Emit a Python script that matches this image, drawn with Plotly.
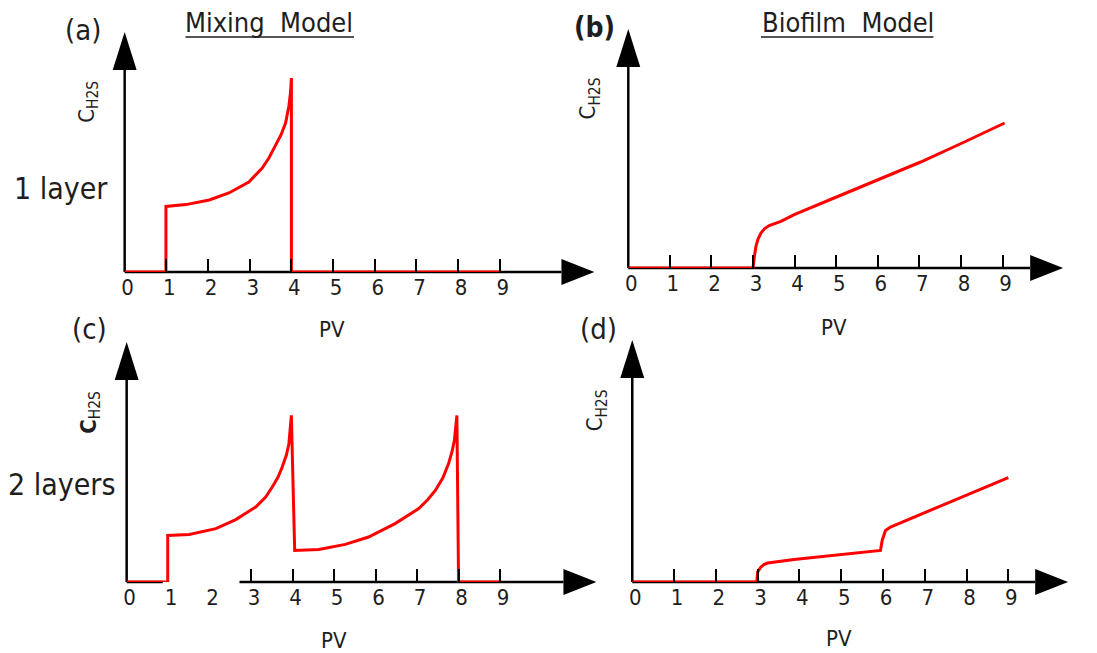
import plotly.graph_objects as go

W, H = 1097, 653

# ---------------- data (PV vs C_H2S, arbitrary units) ----------------
pv_ticks = [0, 1, 2, 3, 4, 5, 6, 7, 8, 9]
pv_labels = ["0", "1", "2", "3", "4", "5", "6", "7", "8", "9"]

a_x = [0, 0.99, 0.99, 1.47, 2.03, 2.50, 2.98, 3.30, 3.46, 3.62, 3.75, 3.86, 3.94, 3.98, 4.0, 4.0, 9.0]
a_y = [0, 0, 3.28, 3.37, 3.60, 3.95, 4.50, 5.20, 5.70, 6.30, 6.85, 7.45, 8.30, 9.00, 9.70, 0, 0]

b_x = [0, 3.0, 3.03, 3.07, 3.12, 3.19, 3.28, 3.39, 3.67, 3.99, 4.95, 5.99, 7.03, 8.03, 9.05]
b_y = [0, 0, 0.55, 1.08, 1.45, 1.75, 1.97, 2.12, 2.33, 2.67, 3.50, 4.42, 5.30, 6.25, 7.25]

c_x = [0, 0.99, 0.99, 1.51, 2.15, 2.63, 3.11, 3.35, 3.51, 3.65, 3.75, 3.85, 3.91, 3.97, 4.05,
       4.63, 5.27, 5.83, 6.47, 7.04, 7.25, 7.44, 7.62, 7.76, 7.84, 7.90, 7.96, 8.0, 9.0]
c_y = [0, 0, 2.33, 2.38, 2.67, 3.12, 3.75, 4.25, 4.75, 5.25, 5.75, 6.35, 6.90, 8.33, 1.58,
       1.63, 1.88, 2.25, 2.92, 3.67, 4.10, 4.58, 5.20, 5.92, 6.50, 7.08, 8.33, 0, 0]
c_tick_marks = [3, 4, 5, 6, 7, 8, 9]

d_x = [0, 2.98, 3.0, 3.04, 3.08, 3.15, 3.24, 3.87, 4.99, 5.94, 5.98, 6.02, 6.06, 6.18, 6.98, 7.97, 9.0]
d_y = [0, 0, 0.50, 0.64, 0.75, 0.87, 0.95, 1.12, 1.37, 1.58, 2.08, 2.40, 2.58, 2.75, 3.45, 4.30, 5.22]

# ---------------- layout geometry (pixels) ----------------
YUNIT = 20.0
panels = {
    "a": dict(x0=122, unit=41.8, xend=560, y0=272, ytop=70, xs=a_x, ys=a_y, ax=""),
    "b": dict(x0=627, unit=41.7, xend=1030, y0=268, ytop=67, xs=b_x, ys=b_y, ax="2"),
    "c": dict(x0=124, unit=41.6, xend=562, y0=582, ytop=380, xs=c_x, ys=c_y, ax="3"),
    "d": dict(x0=631, unit=41.9, xend=1035, y0=582, ytop=378, xs=d_x, ys=d_y, ax="4"),
}
c_axis_gap = (0.87, 2.72)

FONT = "DejaVu Sans Condensed, DejaVu Sans, sans-serif"
TXT = "#1e1e1e"

def px(x):
    return x / W

def py(y):
    return 1 - y / H

fig = go.Figure()
shapes = []
annotations = []

for key, p in panels.items():
    ax = p["ax"]
    fig.add_trace(go.Scatter(
        x=p["xs"], y=p["ys"], mode="lines",
        line=dict(color="#ff0000", width=3),
        xaxis="x" + ax, yaxis="y" + ax, cliponaxis=False,
        showlegend=False, hoverinfo="skip"))
    xr = (p["xend"] - p["x0"]) / p["unit"]
    yr = (p["y0"] - p["ytop"]) / YUNIT
    xaxis = dict(
        domain=[px(p["x0"]), px(p["xend"])], range=[0, xr],
        anchor="y" + ax, showgrid=False, zeroline=False, showline=False,
        tickmode="array", tickvals=pv_ticks, ticktext=pv_labels,
        ticks="inside", ticklen=13, tickwidth=2, tickcolor="black",
        ticklabelshift=3, ticklabelstandoff=0,
        tickfont=dict(family=FONT, size=22, color=TXT), fixedrange=True)
    if key == "c":
        xaxis["ticks"] = ""
        xaxis["minor"] = dict(tickmode="array", tickvals=c_tick_marks, ticks="inside",
                              ticklen=13, tickwidth=2, tickcolor="black", showgrid=False)
    yaxis = dict(
        domain=[py(p["y0"]), py(p["ytop"])], range=[0, yr],
        anchor="x" + ax, showgrid=False, zeroline=False, showline=False,
        showticklabels=False, ticks="", fixedrange=True)
    fig.update_layout(**{"xaxis" + ax: xaxis, "yaxis" + ax: yaxis})

    # axis lines
    x0, y0 = p["x0"], p["y0"]
    if key == "c":
        g0 = x0 + c_axis_gap[0] * p["unit"]
        g1 = x0 + c_axis_gap[1] * p["unit"]
        segs = [(x0, g0), (g1, p["xend"])]
    else:
        segs = [(x0, p["xend"])]
    for s0, s1 in segs:
        shapes.append(dict(type="line", xref="paper", yref="paper", layer="below",
                           x0=px(s0), x1=px(s1), y0=py(y0), y1=py(y0),
                           line=dict(color="black", width=2.5)))
    shapes.append(dict(type="line", xref="paper", yref="paper", layer="below",
                       x0=px(x0), x1=px(x0), y0=py(y0), y1=py(p["ytop"]),
                       line=dict(color="black", width=2.5)))
    # arrow heads
    xe = p["xend"]
    shapes.append(dict(type="path", xref="paper", yref="paper", layer="above",
                       path=f"M {px(xe)},{py(y0-13)} L {px(xe+33)},{py(y0)} L {px(xe)},{py(y0+13)} Z",
                       fillcolor="black", line=dict(color="black", width=0)))
    yt = p["ytop"]
    shapes.append(dict(type="path", xref="paper", yref="paper", layer="above",
                       path=f"M {px(x0-12)},{py(yt)} L {px(x0)},{py(yt-38)} L {px(x0+12)},{py(yt)} Z",
                       fillcolor="black", line=dict(color="black", width=0)))

def ann(text, x, y, size, angle=0, color=TXT):
    annotations.append(dict(text=text, x=px(x), y=py(y), xref="paper", yref="paper",
                            xanchor="center", yanchor="middle", showarrow=False,
                            textangle=angle, font=dict(family=FONT, size=size, color=color)))

ann("(a)", 80, 30, 29)
ann("<b>(b)</b>", 593, 28, 28)
ann("(c)", 87, 329, 29)
ann("(d)", 597, 329, 29)
ann("Mixing  Model", 267, 23, 27)
ann("Biofilm  Model", 847, 23, 27)
ann("1 layer", 58, 188, 30)
ann("2 layers", 59, 484, 30)
ann("C<sub>H2S</sub>", 85, 102, 22, -90)
ann("C<sub>H2S</sub>", 589, 98, 22, -90)
ann("<b>C</b><sub>H2S</sub>", 87, 412, 22, -90)
ann("C<sub>H2S</sub>", 595, 410, 22, -90)
ann("PV", 330, 329, 22)
ann("PV", 833, 328, 22)
ann("PV", 332, 640, 22)
ann("PV", 838, 638, 22)

# title underlines
for u0, u1 in [(183, 352), (760, 933)]:
    shapes.append(dict(type="line", xref="paper", yref="paper",
                       x0=px(u0), x1=px(u1), y0=py(37), y1=py(37),
                       line=dict(color="#555555", width=2)))

fig.update_layout(
    width=W, height=H, margin=dict(l=0, r=0, t=0, b=0),
    paper_bgcolor="white", plot_bgcolor="rgba(0,0,0,0)",
    shapes=shapes, annotations=annotations, showlegend=False,
)

fig.write_html("out.html")
